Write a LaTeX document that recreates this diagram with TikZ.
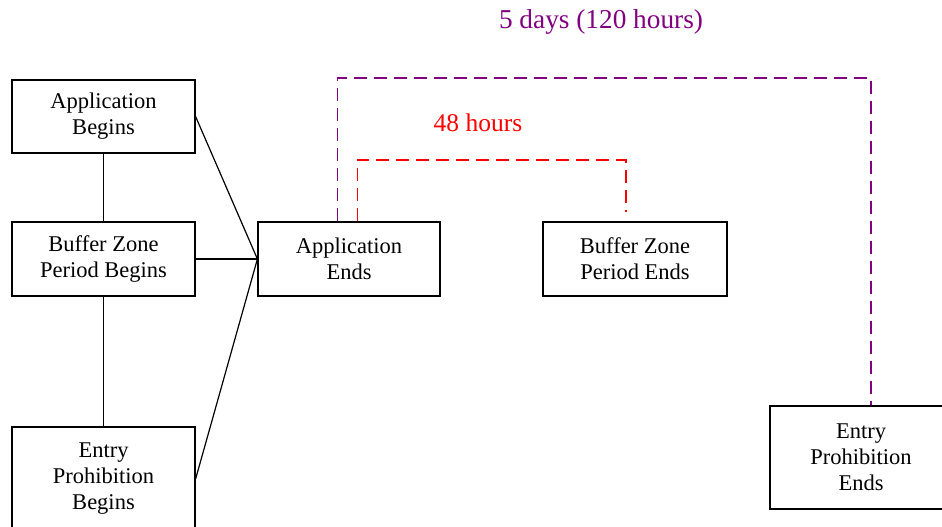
\documentclass[tikz,border=0pt]{standalone}
\usepackage{fontspec}
\setmainfont{Liberation Serif}
\usetikzlibrary{calc}
\definecolor{mypurple}{RGB}{128,0,128}
\definecolor{myred}{RGB}{255,0,0}
\begin{document}
\begin{tikzpicture}[x=1pt,y=1pt,
  box/.style={draw, line width=1.2pt, minimum width=183pt, minimum height=74pt, align=center, inner sep=0pt, font=\fontsize{22.5}{26}\selectfont},
  conn/.style={line width=1.2pt},
  purpledash/.style={draw=mypurple, line width=1.3pt, dash pattern=on 13pt off 7pt},
  reddash/.style={draw=myred, line width=1.3pt, dash pattern=on 13pt off 7pt},
  lbl/.style={inner sep=0pt}]
\useasboundingbox (0,0) rectangle (942,-527);
\node[box, minimum height=73pt] (b1) at (103.5,-116.5) {Application\\Begins};
\node[box] (b2) at (103.5,-259) {Buffer Zone\\Period Begins};
\node[box, minimum height=104pt] (b3) at (103.5,-479) {Entry\\Prohibition\\Begins};
\node[box, minimum width=182pt] (b4) at (349,-259) {Application\\Ends};
\node[box, minimum width=184pt] (b5) at (635,-259) {Buffer Zone\\Period Ends};
\node[box, minimum width=182pt, minimum height=103pt] (b6) at (861,-457.5) {Entry\\Prohibition\\Ends};
\draw[conn] (b1.south) -- (b2.north);
\draw[conn] (b2.south) -- (b3.north);
\draw[conn] (b1.east) -- (b4.west);
\draw[conn] (b2.east) -- (b4.west);
\draw[conn] (b3.east) -- (b4.west);
\coordinate (p1) at ($(b4.north west)+(80,0)$);
\coordinate (p2) at ($(b6.north)+(10,0)$);
\coordinate (ptop) at (871,-78);
\draw[purpledash] (p1) |- (ptop) -- (p2);
\coordinate (r1) at ($(b4.north west)+(100,0)$);
\coordinate (rtop) at (626,-160);
\coordinate (rend) at (626,-212);
\draw[reddash] (r1) |- (rtop) -- (rend);
\node[lbl, text=mypurple, font=\fontsize{27.3}{31}\selectfont] (t1) at (601,-22) {5 days (120 hours)};
\node[lbl, text=myred, font=\fontsize{25.5}{29}\selectfont] (t2) at (478,-123) {48 hours};
\end{tikzpicture}
\end{document}
